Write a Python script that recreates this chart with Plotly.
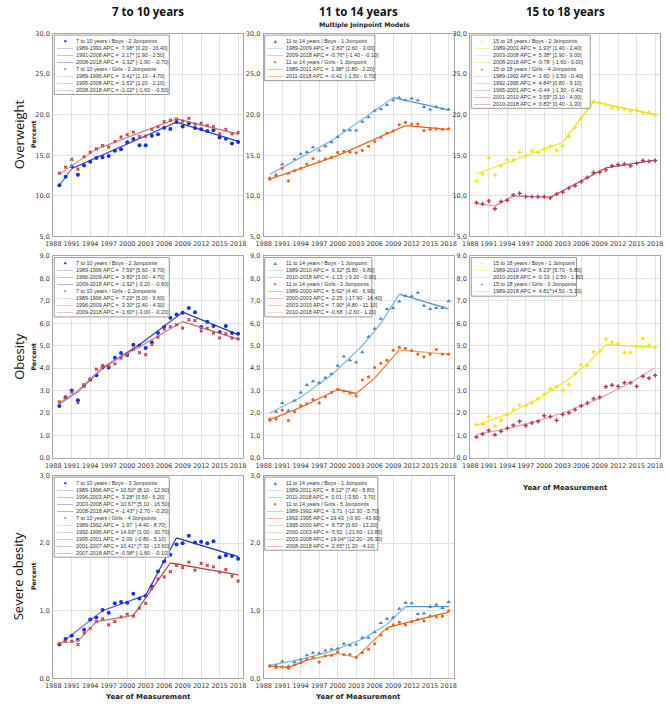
import plotly.graph_objects as go

W, H = 669, 709
years = list(range(1989, 2019))

# ---------------- DATA ----------------
# Overweight
ow_710_boys = [11.3, 12.35, 13.65, 12.6, 13.75, 14.2, 14.65, 14.75, 14.9, 15.55, 15.75, 16.6, 17.0, 16.25, 16.25,
               17.4, 17.6, 18.4, 18.25, 19.1, 18.55, 18.95, 18.35, 18.2, 18.0, 18.1, 17.2, 17.05, 16.45, 16.65]
ow_710_girls = [12.8, 13.55, 14.5, 13.3, 14.8, 15.4, 15.8, 16.2, 16.0, 16.7, 17.25, 17.55, 17.85, 17.3, 17.35,
                18.2, 18.5, 19.15, 19.35, 19.45, 19.2, 19.55, 18.85, 18.95, 18.65, 18.55, 17.65, 18.2, 17.65, 17.8]
ow_1114_boys = [12.2, 12.6, 13.9, 12.75, 14.5, 15.15, 15.4, 16.0, 15.6, 16.1, 16.6, 17.25, 18.05, 18.1, 18.05,
                19.15, 19.7, 20.5, 20.7, 21.2, 21.8, 22.1, 21.8, 22.0, 21.8, 20.95, 20.65, 21.0, 20.75, 20.65]
ow_1114_girls = [12.05, 12.45, 13.4, 11.85, 13.1, 13.4, 13.9, 14.6, 14.2, 14.55, 14.75, 15.35, 15.45, 15.4, 15.3,
                 15.6, 16.1, 16.7, 17.25, 17.75, 18.0, 18.75, 19.05, 18.85, 18.85, 18.05, 18.2, 18.25, 18.2, 18.25]
ow_1518_boys = [11.85, 12.7, 14.7, 12.55, 13.7, 14.45, 14.4, 15.35, 14.95, 15.55, 15.35, 15.8, 16.1, 15.6, 16.15,
                17.35, 18.4, 19.6, 20.75, 21.6, 21.45, 21.25, 20.8, 20.85, 20.7, 20.45, 20.55, 20.25, 20.3, 20.0]
ow_1518_girls = [9.15, 9.0, 9.35, 8.4, 9.3, 9.45, 10.1, 10.3, 9.9, 9.9, 9.9, 9.9, 9.75, 10.2, 10.45,
                 10.95, 11.25, 11.75, 12.25, 12.85, 12.9, 13.2, 13.7, 13.85, 13.9, 13.7, 14.0, 14.35, 14.25, 14.35]

# Obesity
ob_710_boys = [2.31, 2.7, 3.0, 2.57, 3.25, 3.51, 3.68, 4.04, 4.03, 4.46, 4.68, 4.59, 5.04, 5.01, 4.9,
               5.16, 5.57, 5.84, 6.25, 6.4, 6.47, 6.68, 6.49, 5.84, 6.07, 5.88, 5.6, 5.88, 5.57, 5.54]
ob_710_girls = [2.5, 2.68, 2.93, 2.46, 3.19, 3.47, 3.96, 4.12, 4.07, 4.19, 4.45, 4.6, 4.85, 4.69, 4.6,
                5.06, 5.38, 5.74, 5.85, 5.93, 5.79, 6.16, 6.12, 5.66, 5.78, 5.56, 5.35, 5.54, 5.34, 5.31]
ob_1114_boys = [1.73, 2.06, 2.45, 2.1, 2.55, 2.92, 3.25, 3.42, 3.35, 3.57, 3.74, 4.11, 4.52, 4.35, 4.26,
                4.71, 5.4, 5.76, 6.2, 6.64, 6.68, 6.97, 7.22, 7.21, 7.36, 6.78, 6.64, 6.68, 6.68, 6.99]
ob_1114_girls = [1.68, 1.73, 2.13, 1.66, 2.06, 2.33, 2.41, 2.6, 2.45, 2.72, 2.92, 3.05, 2.98, 2.89, 2.76,
                 3.48, 3.61, 4.03, 4.22, 4.35, 4.8, 4.93, 4.88, 4.78, 4.63, 4.5, 4.63, 4.83, 4.63, 4.63]
ob_1518_boys = [1.48, 1.5, 1.85, 1.41, 1.69, 1.91, 2.16, 2.35, 2.32, 2.45, 2.64, 2.83, 3.07, 3.16, 3.02,
                3.27, 3.76, 4.16, 4.11, 4.73, 4.76, 5.3, 5.15, 5.08, 4.7, 4.7, 4.96, 5.32, 5.02, 4.93]
ob_1518_girls = [0.93, 1.06, 1.22, 1.03, 1.18, 1.32, 1.45, 1.63, 1.44, 1.56, 1.63, 1.88, 1.84, 1.67, 1.94,
                 2.01, 2.15, 2.32, 2.44, 2.64, 2.7, 3.17, 3.24, 3.19, 3.35, 3.35, 3.19, 3.64, 3.55, 3.68]

# Severe obesity
so_710_boys = [0.5, 0.58, 0.63, 0.57, 0.72, 0.87, 0.9, 1.01, 0.97, 1.11, 1.13, 1.12, 1.25, 1.18, 1.22,
               1.36, 1.58, 1.73, 1.83, 1.98, 2.0, 2.11, 2.01, 2.02, 2.0, 2.03, 1.79, 1.82, 1.81, 1.77]
so_710_girls = [0.51, 0.55, 0.55, 0.5, 0.67, 0.74, 0.84, 0.88, 0.79, 0.84, 0.91, 0.95, 0.92, 1.04, 1.11,
                1.33, 1.47, 1.5, 1.58, 1.67, 1.64, 1.72, 1.6, 1.7, 1.67, 1.65, 1.57, 1.61, 1.51, 1.44]
so_1114_boys = [0.19, 0.19, 0.25, 0.18, 0.24, 0.28, 0.34, 0.38, 0.37, 0.41, 0.43, 0.44, 0.51, 0.49, 0.5,
                0.6, 0.6, 0.68, 0.82, 0.88, 0.9, 1.03, 1.12, 1.11, 0.95, 0.96, 1.06, 1.09, 1.04, 1.13]
so_1114_girls = [0.18, 0.16, 0.17, 0.15, 0.2, 0.23, 0.28, 0.31, 0.24, 0.33, 0.34, 0.39, 0.35, 0.35, 0.31,
                 0.38, 0.43, 0.51, 0.64, 0.73, 0.79, 0.83, 0.79, 0.84, 0.87, 0.85, 0.92, 0.91, 0.92, 1.0]

# Joinpoint fitted values (read at joinpoints and a few intermediate years)
ow_710_boys_fit_x = [1989, 1991, 2008, 2018]
ow_710_boys_fit_y = [11.3, 13.35, 19.1, 16.7]
ow_710_boys_breaks = [1989, 1991, 2008, 2018]
ow_710_girls_fit_x = [1989, 1995, 2008, 2018]
ow_710_girls_fit_y = [12.7, 15.75, 19.5, 17.6]
ow_710_girls_breaks = [1989, 1995, 2008, 2018]

ow_1114_boys_fit_x = [1989, 1999, 2009, 2018]
ow_1114_boys_fit_y = [12.65, 16.8, 22.1, 20.6]
ow_1114_boys_breaks = [1989, 2009, 2018]
ow_1114_girls_fit_x = [1989, 2000, 2011, 2018]
ow_1114_girls_fit_y = [12.05, 14.95, 18.65, 18.2]
ow_1114_girls_breaks = [1989, 2011, 2018]

ow_1518_boys_fit_x = [1989, 2003, 2008, 2018]
ow_1518_boys_fit_y = [12.7, 16.6, 21.6, 20.0]
ow_1518_boys_breaks = [1989, 2003, 2008, 2018]
ow_1518_girls_fit_x = [1989, 1992, 1995, 2001, 2010, 2018]
ow_1518_girls_fit_y = [9.05, 8.75, 10.0, 9.8, 13.45, 14.4]
ow_1518_girls_breaks = [1989, 1992, 1995, 2001, 2010, 2018]

ob_710_boys_fit_x = [1989, 1992, 1996, 2002, 2009, 2018]
ob_710_boys_fit_y = [2.4, 2.95, 4.0, 5.05, 6.5, 5.5]
ob_710_boys_breaks = [1989, 1996, 2009, 2018]
ob_710_girls_fit_x = [1989, 1992, 1996, 2002, 2009, 2018]
ob_710_girls_fit_y = [2.45, 3.0, 4.05, 4.95, 6.08, 5.3]
ob_710_girls_breaks = [1989, 1996, 2009, 2018]

ob_1114_boys_fit_x = [1989, 1994, 1999, 2004, 2007, 2010, 2018]
ob_1114_boys_fit_y = [2.0, 2.7, 3.7, 5.0, 6.0, 7.3, 6.65]
ob_1114_boys_breaks = [1989, 2010, 2018]
ob_1114_girls_fit_x = [1989, 1994, 2000, 2003, 2006, 2010, 2018]
ob_1114_girls_fit_y = [1.7, 2.25, 3.05, 2.87, 3.55, 4.82, 4.62]
ob_1114_girls_breaks = [1989, 2000, 2003, 2010, 2018]

ob_1518_boys_fit_x = [1989, 1994, 1999, 2004, 2007, 2010, 2018]
ob_1518_boys_fit_y = [1.45, 1.95, 2.62, 3.52, 4.2, 5.05, 4.93]
ob_1518_boys_breaks = [1989, 2010, 2018]
ob_1518_girls_fit_x = [1989, 1994, 1999, 2004, 2009, 2014, 2018]
ob_1518_girls_fit_y = [1.03, 1.3, 1.65, 2.1, 2.65, 3.35, 4.02]
ob_1518_girls_breaks = [1989, 2018]

so_710_boys_fit_x = [1989, 1996, 2003, 2008, 2018]
so_710_boys_fit_y = [0.5, 1.0, 1.23, 2.08, 1.8]
so_710_boys_breaks = [1989, 1996, 2003, 2008, 2018]
so_710_girls_fit_x = [1989, 1992, 1995, 2001, 2007, 2018]
so_710_girls_fit_y = [0.52, 0.55, 0.84, 0.93, 1.71, 1.53]
so_710_girls_breaks = [1989, 1992, 1995, 2001, 2007, 2018]

so_1114_boys_fit_x = [1989, 1994, 1999, 2004, 2008, 2011, 2018]
so_1114_boys_fit_y = [0.19, 0.28, 0.4, 0.58, 0.8, 1.06, 1.06]
so_1114_boys_breaks = [1989, 2011, 2018]
so_1114_girls_fit_x = [1989, 1992, 1995, 2000, 2003, 2008, 2018]
so_1114_girls_fit_y = [0.18, 0.16, 0.27, 0.37, 0.31, 0.75, 0.98]
so_1114_girls_breaks = [1989, 1992, 1995, 2000, 2003, 2008, 2018]

# Legend labels
ow_710_labels = ["7 to 10 years / Boys - 2 Joinpoints",
                 ["1989-1991 APC =  7.98* [0.20 - 16.40]", "1991-2008 APC =  2.17* [1.90 - 2.50]",
                  "2008-2018 APC = -1.32* [-1.90 - -0.70]"],
                 "7 to 10 years / Girls - 2 Joinpoints",
                 ["1989-1995 APC =  3.41* [2.10 - 4.70]", "1995-2008 APC =  1.63* [1.20 - 2.10]",
                  "2008-2018 APC = -1.02* [-1.60 - -0.50]"]]
ow_1114_labels = ["11 to 14 years / Boys - 1 Joinpoint",
                  ["1989-2009 APC =  2.83* [2.60 - 3.00]", "2009-2018 APC = -0.76* [-1.40 - -0.10]"],
                  "11 to 14 years / Girls - 1 Joinpoint",
                  ["1989-2011 APC =  1.98* [1.80 - 2.20]", "2011-2018 APC = -0.42  [-1.50 - 0.70]"]]
ow_1518_labels = ["15 to 18 years / Boys - 2 Joinpoints",
                  ["1989-2003 APC =  1.93* [1.40 - 2.40]", "2003-2008 APC =  5.38* [1.90 - 9.00]",
                   "2008-2018 APC = -0.78  [-1.60 - 0.00]"],
                  "15 to 18 years / Girls - 4 Joinpoints",
                  ["1989-1992 APC = -1.60  [-3.50 - 0.40]", "1992-1995 APC =  4.84* [0.80 - 9.10]",
                   "1995-2001 APC = -0.44  [-1.30 - 0.40]", "2001-2010 APC =  3.59* [3.10 - 4.00]",
                   "2010-2018 APC =  0.83* [0.40 - 1.30]"]]
ob_710_labels = ["7 to 10 years / Boys - 2 Joinpoints",
                 ["1989-1996 APC =  7.59* [5.60 - 9.70]", "1996-2009 APC =  3.83* [3.00 - 4.70]",
                  "2009-2018 APC = -1.92* [-3.20 - -0.60]"],
                 "7 to 10 years / Girls - 2 Joinpoints",
                 ["1989-1996 APC =  7.29* [5.00 - 9.60]", "1996-2009 APC =  3.30* [2.40 - 4.30]",
                  "2009-2018 APC = -1.60* [-3.00 - -0.20]"]]
ob_1114_labels = ["11 to 14 years / Boys - 1 Joinpoint",
                  ["1989-2010 APC =  6.32* [5.80 - 6.80]", "2010-2018 APC = -1.13  [-3.20 - 0.90]"],
                  "11 to 14 years / Girls - 3 Joinpoints",
                  ["1989-2000 APC =  5.62* [4.40 - 6.90]", "2000-2003 APC = -2.25  [-17.90 - 16.40]",
                   "2003-2010 APC =  7.90* [4.80 - 11.10]", "2010-2018 APC = -0.68  [-2.60 - 1.20]"]]
ob_1518_labels = ["15 to 18 years / Boys - 1 Joinpoint",
                  ["1989-2010 APC =  6.23* [5.70 - 6.80]", "2010-2018 APC = -0.33  [-2.50 - 1.80]"],
                  "15 to 18 years / Girls - 0 Joinpoints",
                  ["1989-2018 APC =  4.81* [4.50 - 5.10]"]]
so_710_labels = ["7 to 10 years / Boys - 3 Joinpoints",
                 ["1989-1996 APC = 10.50* [8.10 - 12.90]", "1996-2003 APC =  3.28* [0.50 - 6.20]",
                  "2003-2008 APC = 10.67* [5.10 - 16.50]", "2008-2018 APC = -1.43* [-2.70 - -0.20]"],
                 "7 to 10 years / Girls - 4 Joinpoints",
                 ["1989-1992 APC =  1.97  [-4.40 - 8.70]", "1992-1995 APC = 14.93* [1.00 - 30.70]",
                  "1995-2001 APC =  2.09  [-0.80 - 5.10]", "2001-2007 APC = 10.41* [7.30 - 13.60]",
                  "2007-2018 APC = -0.98* [-1.80 - -0.10]"]]
so_1114_labels = ["11 to 14 years / Boys - 1 Joinpoint",
                  ["1989-2011 APC =  8.12* [7.40 - 8.80]", "2011-2018 APC =  0.01  [-3.50 - 3.70]"],
                  "11 to 14 years / Girls - 5 Joinpoints",
                  ["1989-1992 APC = -3.71  [-12.30 - 5.70]", "1992-1995 APC = 19.43  [-0.90 - 43.90]",
                   "1995-2000 APC =  6.73* [0.60 - 13.20]", "2000-2003 APC = -5.52  [-21.60 - 13.80]",
                   "2003-2008 APC = 19.04* [12.20 - 26.30]", "2008-2018 APC =  2.65* [1.20 - 4.10]"]]

col_titles = ["7 to 10 years", "11 to 14 years", "15 to 18 years"]
row_titles = ["Overweight", "Obesity", "Severe obesity"]

# ---------------- STYLES ----------------
STY = {
    "710b": dict(symbol="circle", size=4.0, color="#1530e0", seg=["#7078d0", "#4b55c4", "#3340b4", "#2532a6"]),
    "710g": dict(symbol="x", size=3.3, color="#b84848",
                 seg=["#dca0a0", "#d08888", "#c47070", "#b85858", "#a84040"]),
    "1114b": dict(symbol="triangle-up", size=4.0, color="#4a88bf", seg=["#8cbadb", "#5a95c4"]),
    "1114g": dict(symbol="circle", size=3.2, color="#ec6428",
                  seg=["#ec6a2c", "#e05a22", "#f08040", "#f0a070", "#e88050", "#e06020"]),
    "1518b": dict(symbol="cross", size=3.5, color="#f2e21a", seg=["#f2e640", "#efdc20", "#e8d418"]),
    "1518g": dict(symbol="cross", size=3.5, color="#b83850",
                  seg=["#e0a8b0", "#d49098", "#c87884", "#bc6070", "#b04860"]),
}

col_px = [(46, 239), (260, 453), (470, 663)]
row_px = [(30, 235), (255, 459), (477, 682)]
yranges = [(5, 30), (0, 9), (0, 3)]
ydt = [5, 1, 1]
XR = [1988, 2018.8]

panels = [
    (0, 0, [("710b", ow_710_boys, ow_710_boys_fit_x, ow_710_boys_fit_y, ow_710_boys_breaks),
            ("710g", ow_710_girls, ow_710_girls_fit_x, ow_710_girls_fit_y, ow_710_girls_breaks)], ow_710_labels),
    (0, 1, [("1114b", ow_1114_boys, ow_1114_boys_fit_x, ow_1114_boys_fit_y, ow_1114_boys_breaks),
            ("1114g", ow_1114_girls, ow_1114_girls_fit_x, ow_1114_girls_fit_y, ow_1114_girls_breaks)], ow_1114_labels),
    (0, 2, [("1518b", ow_1518_boys, ow_1518_boys_fit_x, ow_1518_boys_fit_y, ow_1518_boys_breaks),
            ("1518g", ow_1518_girls, ow_1518_girls_fit_x, ow_1518_girls_fit_y, ow_1518_girls_breaks)], ow_1518_labels),
    (1, 0, [("710b", ob_710_boys, ob_710_boys_fit_x, ob_710_boys_fit_y, ob_710_boys_breaks),
            ("710g", ob_710_girls, ob_710_girls_fit_x, ob_710_girls_fit_y, ob_710_girls_breaks)], ob_710_labels),
    (1, 1, [("1114b", ob_1114_boys, ob_1114_boys_fit_x, ob_1114_boys_fit_y, ob_1114_boys_breaks),
            ("1114g", ob_1114_girls, ob_1114_girls_fit_x, ob_1114_girls_fit_y, ob_1114_girls_breaks)], ob_1114_labels),
    (1, 2, [("1518b", ob_1518_boys, ob_1518_boys_fit_x, ob_1518_boys_fit_y, ob_1518_boys_breaks),
            ("1518g", ob_1518_girls, ob_1518_girls_fit_x, ob_1518_girls_fit_y, ob_1518_girls_breaks)], ob_1518_labels),
    (2, 0, [("710b", so_710_boys, so_710_boys_fit_x, so_710_boys_fit_y, so_710_boys_breaks),
            ("710g", so_710_girls, so_710_girls_fit_x, so_710_girls_fit_y, so_710_girls_breaks)], so_710_labels),
    (2, 1, [("1114b", so_1114_boys, so_1114_boys_fit_x, so_1114_boys_fit_y, so_1114_boys_breaks),
            ("1114g", so_1114_girls, so_1114_girls_fit_x, so_1114_girls_fit_y, so_1114_girls_breaks)], so_1114_labels),
]


def px(x):
    return x / W


def py(y):
    return 1 - y / H


fig = go.Figure()
layout = dict(width=W, height=H, margin=dict(l=0, r=0, t=0, b=0), showlegend=False,
              plot_bgcolor="white", paper_bgcolor="white", separators=", ")
annotations = []
shapes = []
TICKFONT = dict(family="DejaVu Sans", size=6.5, color="#3a3a3a")
LEGFONT = dict(family="Liberation Sans", size=5.4, color="#333333")
GLYPH = {"circle": "\u25CF", "x": "\u00D7", "triangle-up": "\u25B2", "cross": "+"}

for k, (r, c, series, labels) in enumerate(panels):
    n = k + 1
    xa = "xaxis" if n == 1 else f"xaxis{n}"
    ya = "yaxis" if n == 1 else f"yaxis{n}"
    xr = "x" if n == 1 else f"x{n}"
    yr = "y" if n == 1 else f"y{n}"
    x0, x1 = col_px[c]
    y0, y1 = row_px[r]
    layout[xa] = dict(domain=[px(x0), px(x1)], range=XR, anchor=yr, tick0=1988, dtick=3,
                      showgrid=True, gridcolor="#e2e2e2", gridwidth=1, zeroline=False,
                      showline=True, mirror=True, linecolor="#a8a8a8", linewidth=1.2,
                      ticks="", tickangle=0, tickfont=TICKFONT, ticklabelstandoff=1,
                      ticklabeloverflow="allow")
    layout[ya] = dict(domain=[py(y1), py(y0)], range=list(yranges[r]), anchor=xr, dtick=ydt[r],
                      tickformat=".1f", showgrid=True, gridcolor="#e2e2e2", gridwidth=1, zeroline=False,
                      showline=True, mirror=True, linecolor="#a8a8a8", linewidth=1.2,
                      ticks="", tickfont=TICKFONT, ticklabelstandoff=1, ticklabeloverflow="allow")
    for key, vals, fx, fy, br in series:
        st = STY[key]
        for i in range(len(br) - 1):
            sx = [xx for xx in fx if br[i] <= xx <= br[i + 1]]
            sy = [fy[j] for j, xx in enumerate(fx) if br[i] <= xx <= br[i + 1]]
            fig.add_trace(go.Scatter(x=sx, y=sy, mode="lines", xaxis=xr, yaxis=yr,
                                     line=dict(color=st["seg"][i], width=1.3), hoverinfo="skip"))
        fig.add_trace(go.Scatter(x=years, y=vals, mode="markers", xaxis=xr, yaxis=yr,
                                 marker=dict(symbol=st["symbol"], size=st["size"], color=st["color"],
                                             line=dict(width=0))))
    # legend block
    sw_lines, tx_lines = [], []
    for si, (key, *_rest) in enumerate(series):
        st = STY[key]
        head = labels[2 * si]
        segs = labels[2 * si + 1]
        sw_lines.append(f'<span style="color:{st["color"]}">{GLYPH[st["symbol"]]}</span>')
        tx_lines.append(head)
        for j, s in enumerate(segs):
            sw_lines.append(f'<span style="color:{st["seg"][j]}">\u2014\u2014\u2014</span>')
            tx_lines.append(s.replace("  ", "\u00a0 "))
    nl = len(tx_lines)
    lh = 7.0
    bx0, by0 = x0 + 1, y0 + 1.5
    widths = {0: 117, 1: 112, 2: 121}
    bw = widths[c] if not (r == 1 and c == 1) else 109
    if r == 1 and c == 2:
        bw = 107
    if r == 2 and c == 1:
        bw = 115
    bh = nl * lh + 4
    shapes.append(dict(type="rect", xref="paper", yref="paper", x0=px(bx0), x1=px(bx0 + bw),
                       y0=py(by0 + bh), y1=py(by0), fillcolor="white",
                       line=dict(color="#9a9a9a", width=1), layer="above"))
    annotations.append(dict(xref="paper", yref="paper", x=px(bx0 + 11), y=py(by0 + 1.5), xanchor="center",
                            yanchor="top", text="<br>".join(sw_lines), showarrow=False, align="center",
                            font=LEGFONT, borderpad=0))
    annotations.append(dict(xref="paper", yref="paper", x=px(bx0 + 21), y=py(by0 + 1.5), xanchor="left",
                            yanchor="top", text="<br>".join(tx_lines), showarrow=False, align="left",
                            font=LEGFONT, borderpad=0))

TITLEFONT = dict(family="Open Sans", size=11.5, color="#111111")
for c, t in enumerate(col_titles):
    cx = (col_px[c][0] + col_px[c][1]) / 2
    annotations.append(dict(xref="paper", yref="paper", x=px(cx), y=py(8), text=f"<b>{t}</b>",
                            showarrow=False, font=TITLEFONT, xanchor="center", yanchor="middle"))
annotations.append(dict(xref="paper", yref="paper", x=px(362), y=py(21.5), text="<b>Multiple Joinpoint Models</b>",
                        showarrow=False, font=dict(family="DejaVu Sans", size=6.3, color="#222222"),
                        xanchor="center", yanchor="middle"))
row_cy = [132, 357, 579]
for r, t in enumerate(row_titles):
    annotations.append(dict(xref="paper", yref="paper", x=px(11), y=py(row_cy[r]), text=t, textangle=-90,
                            showarrow=False, font=dict(family="Open Sans", size=13, color="#111111"),
                            xanchor="center", yanchor="middle"))
    annotations.append(dict(xref="paper", yref="paper", x=px(26), y=py(row_cy[r]), text="<b>Percent</b>",
                            textangle=-90, showarrow=False, font=dict(family="DejaVu Sans", size=6.3, color="#222222"),
                            xanchor="center", yanchor="middle"))
for (cx, cy) in [(142, 701), (356, 701), (566, 490)]:
    annotations.append(dict(xref="paper", yref="paper", x=px(cx), y=py(cy), text="<b>Year of Measurement</b>",
                            showarrow=False, font=dict(family="DejaVu Sans", size=7, color="#222222"),
                            xanchor="center", yanchor="middle"))

layout["annotations"] = annotations
layout["shapes"] = shapes
fig.update_layout(**layout)
fig.write_html("out.html", config={"displayModeBar": False},
               post_script="document.body.style.margin='0';document.body.style.padding='0';")
